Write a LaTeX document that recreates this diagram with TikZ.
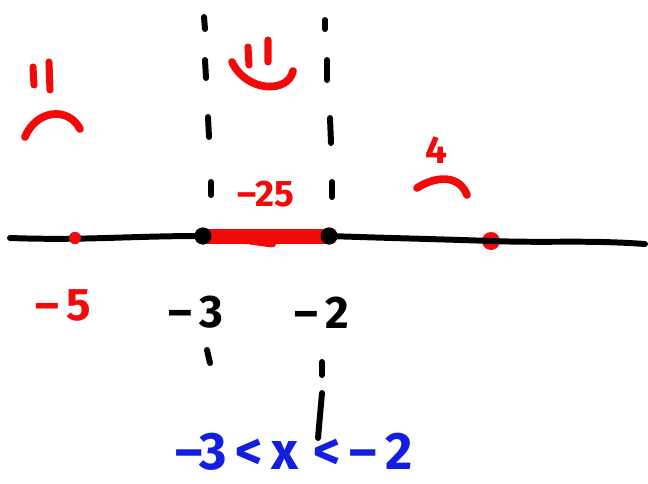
\documentclass[tikz,border=0pt]{standalone}
\usepackage{fontspec}
\setmainfont{Fira Sans}
\usetikzlibrary{positioning}
\definecolor{penred}{RGB}{240,10,10}
\definecolor{penblue}{RGB}{20,30,225}

\begin{document}
\begin{tikzpicture}[
        x=0.02cm, y=-0.02cm,
        pen/.style = {line width=3.4pt, line cap=round, line join=round},
        dot/.style = {circle, fill=black, inner sep=0pt, minimum size=0.34cm},
        rdot/.style = {circle, fill=penred, inner sep=0pt, minimum size=0.36cm},
        lbl/.style = {font=\bfseries\fontsize{26}{30}\selectfont, inner sep=0pt}
    ]
    \useasboundingbox (0,0) rectangle (648,483);

    % number line
    \coordinate (lstart) at (10,238);
    \coordinate (lend) at (645,244);
    \node[rdot, minimum size=0.24cm] (mfive) at (75,238) {};
    \node[dot] (mthree) at (203,236) {};
    \node[dot] (mtwo) at (329,236) {};
    \node[rdot] (four) at (491,241) {};
    \draw[pen] (lstart) to[out=-2, in=180] (mthree.center) -- (mtwo.center)
        to[out=-2, in=178] (four.center) to[out=-2, in=176] (lend);

    % solution interval
    \draw[penred, line width=0.3cm] (mthree.center) -- (mtwo.center);
    \draw[penred, line width=0.18cm, line cap=round] (250,240) -- (272,243);
    \node[dot] at (mthree) {};
    \node[dot] at (mtwo) {};
    \node[rdot, minimum size=0.24cm] at (mfive) {};

    % guide lines
    \foreach \xa/\ya/\xb/\yb in {204/17/205/29, 205/60/206/78, 208/117/209/137, 211/182/211/195,
                                 325/20/325/29, 327/60/327/80, 330/118/331/143, 332/182/332/197,
                                 207/350/210/363, 322/362/322/375, 322/393/318/438}
        \draw[pen] (\xa,\ya) -- (\xb,\yb);

    % faces
    \draw[pen, penred, line width=4pt] (33,67) -- (34,85) (49,62) -- (50,90);
    \draw[pen, penred, line width=4.4pt] (25,137) .. controls (36,110) and (68,106) .. (80,129);
    \draw[pen, penred, line width=4pt] (248,47) -- (249,65) (268,40) -- (268,62);
    \draw[pen, penred, line width=4.4pt] (232,62) .. controls (246,92) and (288,94) .. (293,71);
    \draw[pen, penred, line width=4.4pt] (417,188) .. controls (432,178) and (458,172) .. (467,195);

    % labels
    \node[lbl, text=penred] (ftop) at (436,150) {\fontsize{22}{26}\selectfont 4};
    \node[lbl, text=penred] (mid) at (266,194) {\fontsize{21}{24}\selectfont --25};
    \node[lbl, text=penred] (tfive) at (63,305) {--\,5};
    \node[lbl] (tthree) at (196,312) {--\,3};
    \node[lbl] (ttwo) at (322,313) {--\,2};
    \node[lbl, text=penblue] (ans) at (294,452) {\fontsize{30}{34}\selectfont --3\,<\,x\;<\,--\,2};
\end{tikzpicture}
\end{document}
